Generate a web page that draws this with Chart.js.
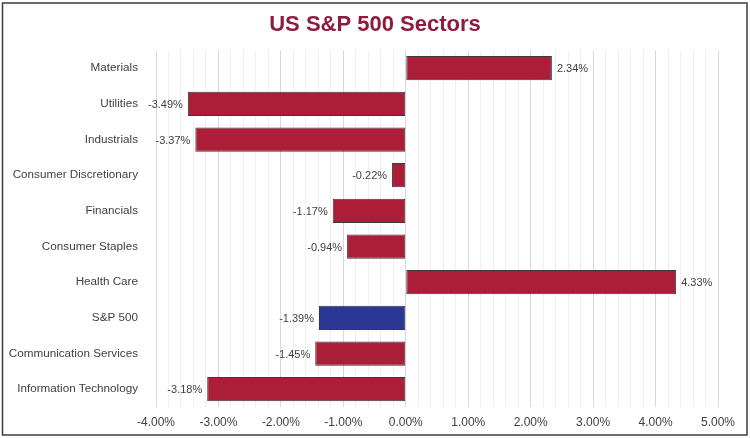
<!DOCTYPE html>
<html>
<head>
<meta charset="utf-8">
<script src="https://cdn.jsdelivr.net/npm/chart.js@4/dist/chart.umd.min.js"></script>
<style>
html,body{margin:0;padding:0;background:#fff;}
#wrap{position:relative;width:750px;height:438px;}
</style>
</head>
<body>
<div id="wrap"><canvas id="c" width="750" height="438"></canvas></div>
<script>
const categories = ["Materials","Utilities","Industrials","Consumer Discretionary","Financials","Consumer Staples","Health Care","S&P 500","Communication Services","Information Technology"];
const values = [2.34,-3.49,-3.37,-0.22,-1.17,-0.94,4.33,-1.39,-1.45,-3.18];
const highlight = "S&P 500";
const xMin = -4, xMax = 5;
const titleText = "US S&P 500 Sectors";

const RED = "#AC1D38", BLUE = "#2A3795";
const colors = categories.map(c => c === highlight ? BLUE : RED);
const FONT = "'Liberation Sans', Arial, sans-serif";

const frame = {
  id: 'frame',
  beforeDraw(chart) {
    const ctx = chart.ctx;
    ctx.save();
    ctx.fillStyle = '#fff';
    ctx.fillRect(0, 0, chart.width, chart.height);
    ctx.strokeStyle = '#3c3c3c';
    ctx.lineWidth = 1.5;
    ctx.strokeRect(2.5, 3, chart.width - 5.5, chart.height - 6);
    ctx.restore();
  }
};

const valueLabels = {
  id: 'valueLabels',
  afterDatasetsDraw(chart) {
    const ctx = chart.ctx;
    const meta = chart.getDatasetMeta(0);
    ctx.save();
    ctx.font = '11px ' + FONT;
    ctx.fillStyle = '#404040';
    ctx.textBaseline = 'middle';
    meta.data.forEach((bar, i) => {
      const v = values[i];
      const txt = v.toFixed(2) + '%';
      if (v >= 0) {
        ctx.textAlign = 'left';
        ctx.fillText(txt, bar.x + 5, bar.y + 1);
      } else {
        ctx.textAlign = 'right';
        ctx.fillText(txt, bar.x - 5, bar.y + 1);
      }
    });
    ctx.restore();
  }
};

new Chart(document.getElementById('c'), {
  type: 'bar',
  data: {
    labels: categories,
    datasets: [{
      data: values,
      backgroundColor: colors,
      borderColor: '#3a3a3a',
      borderWidth: 1,
      borderSkipped: false,
      barPercentage: 0.68,
      categoryPercentage: 1.0
    }]
  },
  options: {
    indexAxis: 'y',
    responsive: false,
    animation: false,
    devicePixelRatio: 1,
    layout: { padding: { left: 0, right: 0, top: 0, bottom: 9 } },
    plugins: {
      legend: { display: false },
      tooltip: { enabled: false },
      title: {
        display: true,
        text: titleText,
        color: '#8E1B3C',
        font: { family: FONT, size: 22, weight: 'bold' },
        padding: { top: 12, bottom: 12 }
      }
    },
    scales: {
      x: {
        type: 'linear',
        min: xMin,
        max: xMax,
        border: { display: false },
        afterFit: (s) => { s.height = 22; s.paddingRight = 32; },
        grid: {
          drawTicks: false,
          color: (c) => {
            const v = c.tick ? c.tick.value : 0;
            return Math.abs(v - Math.round(v)) < 1e-6 ? '#d9d9d9' : '#efefef';
          },
          lineWidth: 1
        },
        ticks: {
          stepSize: 0.2,
          autoSkip: false,
          maxRotation: 0,
          minRotation: 0,
          padding: 8,
          color: '#404040',
          font: { family: FONT, size: 12 },
          callback: (v) => Math.abs(v - Math.round(v)) < 1e-6 ? Math.round(v).toFixed(2) + '%' : ''
        }
      },
      y: {
        border: { display: false },
        afterFit: (s) => { s.width = 156; },
        grid: { display: false, drawTicks: false },
        ticks: {
          padding: 18,
          color: '#404040',
          font: { family: FONT, size: 11.7 }
        }
      }
    }
  },
  plugins: [frame, valueLabels]
});
</script>
</body>
</html>
